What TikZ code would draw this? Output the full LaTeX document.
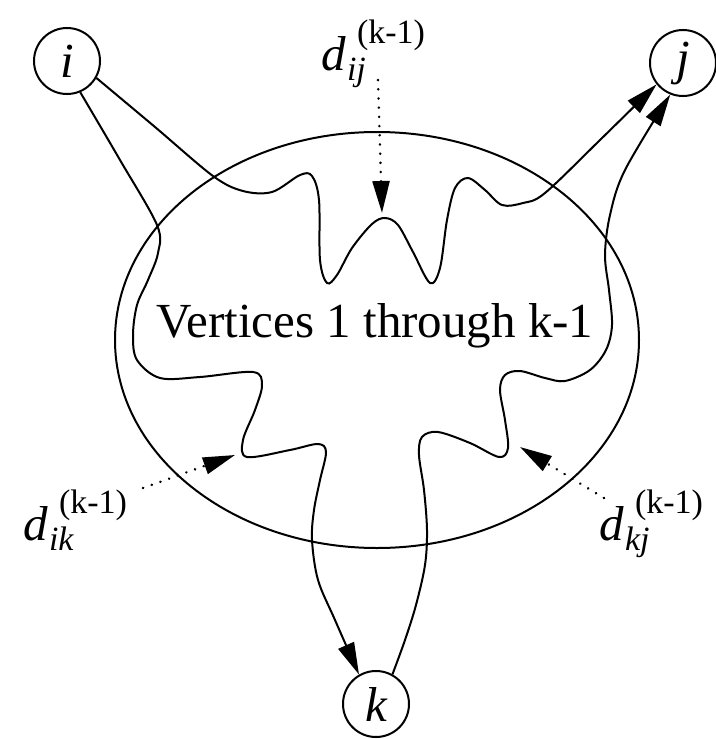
\documentclass[tikz,border=0pt]{standalone}
\usepackage{fontspec}
\setmainfont{Liberation Serif}
\usetikzlibrary{arrows.meta}
\newcommand{\distk}[1]{\textit{d}\hspace{0.5pt}\rlap{\raisebox{-5pt}{\fontsize{17}{20}\selectfont\textit{#1}}}\hspace{5pt}\raisebox{13.5pt}{\fontsize{17}{20}\selectfont(k-1)}}
\tikzset{
  vertex/.style={draw, circle, line width=1pt, minimum size=33pt, inner sep=0pt, font=\fontsize{24.5}{29}\selectfont\itshape},
  setline/.style={line width=1pt},
  walkarrow/.style={line width=1pt, -{Triangle[length=16pt,width=8.5pt]}},
  dotarrow/.style={line width=1.3pt, dash pattern=on 0.1pt off 4.5pt, line cap=round, -{Triangle[length=16pt,width=8.5pt]}},
  distlabel/.style={anchor=base west, inner sep=0pt, font=\fontsize{24.5}{29}\selectfont},
  setlabel/.style={anchor=base, inner sep=0pt, font=\fontsize{24.5}{29}\selectfont}
}
\begin{document}
\begin{tikzpicture}[x=0.5pt, y=-0.5pt]
  \useasboundingbox (0,0) rectangle (716,739);
  \node[vertex] (i) at (67,61) {i};
  \node[vertex] (j) at (683,63) {j};
  \node[vertex] (k) at (376,704) {k};
  \draw[setline] (377,340) ellipse [x radius=262, y radius=208];
  \node[setlabel] (verts) at (375,337) {Vertices 1 through k-1};
  \node[distlabel] (dij) at (321,70) {\distk{ij}};
  \node[distlabel] (dik) at (23,540) {\distk{ik}};
  \node[distlabel] (dkj) at (599,540) {\distk{kj}};
  \coordinate (ij0) at (378,80);
  \coordinate (ij1) at (382,213);
  \coordinate (ik0) at (143,488);
  \coordinate (ik1) at (235,455);
  \coordinate (kj0) at (604,498);
  \coordinate (kj1) at (520,447);
  \draw[walkarrow] plot[smooth, tension=0.55] coordinates {(i.-30) (155,127) (213,176) (243,191) (272,192) (300,175) (312,176) (319,200) (320,260) (327,283) (337,275) (352,248) (372,224) (385,218) (398,225) (413,252) (430,283) (440,268) (447,220) (455,188) (468,178) (485,190) (502,205) (523,203) (545,193) (600,140) (j.-141)};
  \draw[walkarrow] plot[smooth, tension=0.55] coordinates {(i.-67) (120,160) (157,225) (158,253) (148,280) (137,305) (133,335) (137,360) (160,378) (200,377) (253,372) (262,385) (255,410) (243,440) (247,457) (290,450) (318,444) (326,452) (320,480) (314,510) (312,540) (318,580) (335,620) (k.120)};
  \draw[walkarrow] plot[smooth, tension=0.55] coordinates {(k.61) (405,640) (416,605) (425,565) (427,530) (424,490) (419,455) (422,437) (438,432) (470,443) (499,457) (508,448) (505,420) (500,390) (505,375) (520,371) (545,378) (565,381) (590,370) (606,350) (612,325) (609,290) (605,255) (610,215) (625,170) (j.-112)};
  \draw[dotarrow] (ij0) -- (ij1);
  \draw[dotarrow] (ik0) -- (ik1);
  \draw[dotarrow] (kj0) -- (kj1);
\end{tikzpicture}
\end{document}
